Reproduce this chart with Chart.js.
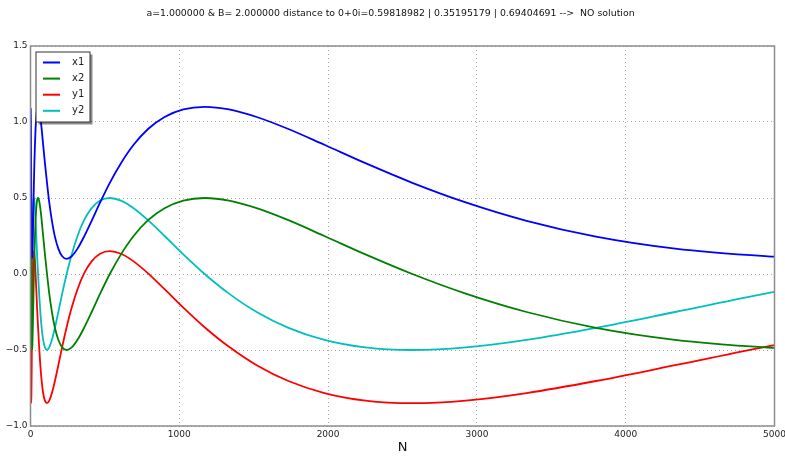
<!DOCTYPE html>
<html>
<head>
<meta charset="utf-8">
<script src="https://cdn.jsdelivr.net/npm/chart.js@4.4.0/dist/chart.umd.min.js"></script>
<style>
  html, body { margin: 0; padding: 0; background: #fff; }
  #wrap { width: 785px; height: 456px; position: relative; }
</style>
</head>
<body>
<div id="wrap"><canvas id="chart"></canvas></div>
<script>
// sample positions along N and the four traces
const N = [1, 2, 3, 4, 5, 6, 7, 8, 10, 12, 14, 17, 20, 23, 26, 30, 34, 39, 44, 51, 58, 66, 75, 85,
  97, 111, 126, 144, 164, 187, 213, 243, 277, 316, 360, 411, 468, 533, 608, 693, 790, 901, 1027,
  1170, 1334, 1520, 1733, 1975, 2251, 2566, 2925, 3334, 3800, 4332, 4938, 5000];

const X1 = [0.603, 1.092, 1.003, 0.777, 0.558, 0.383, 0.256, 0.173, 0.103, 0.117, 0.179, 0.313,
  0.460, 0.600, 0.729, 0.850, 0.954, 1.033, 1.083, 1.100, 1.083, 1.033, 0.954, 0.850, 0.729,
  0.600, 0.471, 0.350, 0.246, 0.167, 0.117, 0.100, 0.117, 0.167, 0.246, 0.350, 0.471, 0.600,
  0.729, 0.850, 0.954, 1.033, 1.083, 1.100, 1.083, 1.033, 0.954, 0.850, 0.729, 0.600, 0.471,
  0.350, 0.246, 0.167, 0.117, 0.114];

const X2 = [0.003, 0.492, 0.403, 0.177, -0.042, -0.217, -0.344, -0.427, -0.497, -0.483, -0.421,
  -0.287, -0.140, 0.000, 0.129, 0.250, 0.354, 0.433, 0.483, 0.500, 0.483, 0.433, 0.354, 0.250,
  0.129, 0.000, -0.129, -0.250, -0.354, -0.433, -0.483, -0.500, -0.483, -0.433, -0.354, -0.250,
  -0.129, 0.000, 0.129, 0.250, 0.354, 0.433, 0.483, 0.500, 0.483, 0.433, 0.354, 0.250, 0.129,
  0.000, -0.129, -0.250, -0.354, -0.433, -0.483, -0.486];

const Y1 = [0.150, -0.261, -0.646, -0.818, -0.848, -0.800, -0.713, -0.610, -0.400, -0.219, -0.079,
  0.060, 0.130, 0.150, 0.133, 0.083, 0.004, -0.100, -0.221, -0.350, -0.479, -0.600, -0.704,
  -0.783, -0.833, -0.850, -0.833, -0.783, -0.704, -0.600, -0.479, -0.350, -0.221, -0.100, 0.004,
  0.083, 0.133, 0.150, 0.133, 0.083, 0.004, -0.100, -0.221, -0.350, -0.479, -0.600, -0.704,
  -0.783, -0.833, -0.850, -0.833, -0.783, -0.704, -0.600, -0.479, -0.468];

const Y2 = [0.500, 0.089, -0.296, -0.468, -0.498, -0.450, -0.363, -0.260, -0.050, 0.131, 0.271,
  0.410, 0.480, 0.500, 0.483, 0.433, 0.354, 0.250, 0.129, 0.000, -0.129, -0.250, -0.354, -0.433,
  -0.483, -0.500, -0.483, -0.433, -0.354, -0.250, -0.129, 0.000, 0.129, 0.250, 0.354, 0.433,
  0.483, 0.500, 0.483, 0.433, 0.354, 0.250, 0.129, 0.000, -0.129, -0.250, -0.354, -0.433,
  -0.483, -0.500, -0.483, -0.433, -0.354, -0.250, -0.129, -0.118];

const SERIES_LABELS = ['x1', 'x2', 'y1', 'y2'];
const SERIES_COLORS = ['#0000ff', '#008000', '#ff0000', '#00bfbf'];

const TITLE = 'a=1.000000 & B= 2.000000 distance to 0+0i=0.59818982 | 0.35195179 | 0.69404691 -->  NO solution';
const X_LABEL = 'N';
const X_MIN = 0, X_MAX = 5000, X_STEP = 1000;
const Y_MIN = -1.0, Y_MAX = 1.5, Y_STEP = 0.5;

const FONT = '"DejaVu Sans", sans-serif';

function toPoints(ys) {
  return N.map((n, i) => ({ x: n, y: ys[i] }));
}

// frame, boxed legend with shadow, title and axis label
const decorPlugin = {
  id: 'decor',
  afterDatasetsDraw(chart) {
    const { ctx, chartArea: a } = chart;
    ctx.save();

    ctx.strokeStyle = '#8c8c8c';
    ctx.lineWidth = 1.5;
    ctx.strokeRect(a.left, a.top, a.right - a.left, a.bottom - a.top);

    // legend box
    const bx = a.left + 5.5, by = a.top + 6, bw = 54, bh = 70;
    ctx.fillStyle = 'rgba(0,0,0,0.45)';
    ctx.fillRect(bx + 2.5, by + 2.5, bw, bh);
    ctx.fillStyle = '#fff';
    ctx.fillRect(bx, by, bw, bh);
    ctx.strokeStyle = '#333';
    ctx.lineWidth = 1;
    ctx.strokeRect(bx, by, bw, bh);

    ctx.font = '10px ' + FONT;
    ctx.textBaseline = 'middle';
    ctx.textAlign = 'left';
    chart.data.datasets.forEach((ds, i) => {
      const ry = by + 10.5 + i * 16.1;
      ctx.strokeStyle = ds.borderColor;
      ctx.lineWidth = 2;
      ctx.beginPath();
      ctx.moveTo(bx + 7, ry);
      ctx.lineTo(bx + 24, ry);
      ctx.stroke();
      ctx.fillStyle = '#222';
      ctx.fillText(ds.label, bx + 36, ry);
    });

    ctx.restore();
  },
  afterDraw(chart) {
    const { ctx, chartArea: a } = chart;
    ctx.save();
    ctx.fillStyle = '#111';
    ctx.textAlign = 'center';
    ctx.textBaseline = 'middle';
    ctx.font = '9.4px ' + FONT;
    ctx.fillText(TITLE, 390.5, 14);
    ctx.font = '13px ' + FONT;
    ctx.fillText(X_LABEL, (a.left + a.right) / 2, 448);
    ctx.restore();
  }
};

const gridStyle = { color: '#a8a8a8', lineWidth: 1, drawTicks: false };

new Chart(document.getElementById('chart'), {
  type: 'line',
  data: {
    datasets: [X1, X2, Y1, Y2].map((ys, i) => ({
      label: SERIES_LABELS[i],
      data: toPoints(ys),
      borderColor: SERIES_COLORS[i],
      backgroundColor: SERIES_COLORS[i],
      borderWidth: 1.8,
      pointRadius: 0,
      cubicInterpolationMode: 'monotone',
      fill: false
    }))
  },
  options: {
    responsive: true,
    maintainAspectRatio: false,
    animation: false,
    layout: { padding: { top: 46, right: 10.5, left: 0, bottom: 0 } },
    plugins: {
      legend: { display: false },
      title: { display: false },
      tooltip: { enabled: false }
    },
    scales: {
      x: {
        type: 'linear',
        min: X_MIN,
        max: X_MAX,
        grid: gridStyle,
        border: { display: false, dash: [1, 3] },
        ticks: {
          stepSize: X_STEP,
          padding: 3,
          color: '#222',
          font: { family: FONT, size: 9 },
          maxRotation: 0,
          callback: v => String(v)
        },
        afterFit(scale) {
          scale.height = 30;
          scale.paddingLeft = 0;
          scale.paddingRight = 0;
        }
      },
      y: {
        min: Y_MIN,
        max: Y_MAX,
        grid: gridStyle,
        border: { display: false, dash: [1, 3] },
        ticks: {
          stepSize: Y_STEP,
          padding: 3,
          color: '#222',
          font: { family: FONT, size: 9 },
          callback: v => v.toFixed(1).replace('-', '\u2212')
        },
        afterFit(scale) {
          scale.width = 30.5;
          scale.paddingTop = 0;
          scale.paddingBottom = 0;
        }
      }
    }
  },
  plugins: [decorPlugin]
});
</script>
</body>
</html>
